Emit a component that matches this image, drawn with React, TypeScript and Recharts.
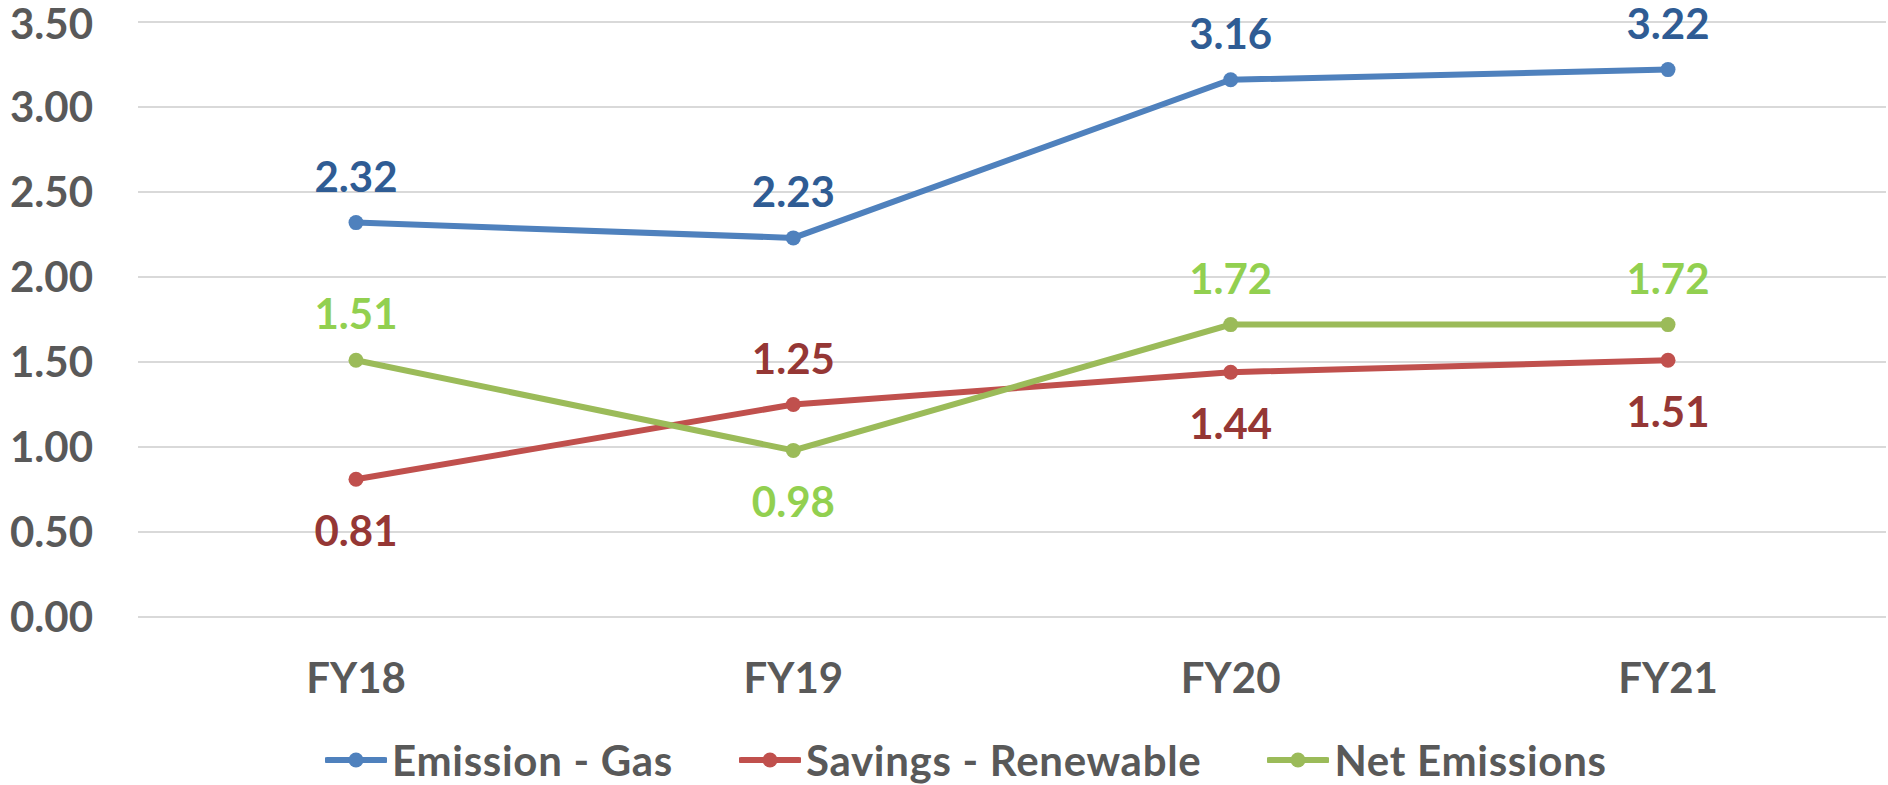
import { LineChart, Line, XAxis, YAxis, CartesianGrid, Legend, LabelList } from 'recharts'

const years = ['FY18', 'FY19', 'FY20', 'FY21']
const gasEmission = [2.32, 2.23, 3.16, 3.22]
const renewableSavings = [0.81, 1.25, 1.44, 1.51]
const netEmissions = [1.51, 0.98, 1.72, 1.72]
const yTicks = [0, 0.5, 1, 1.5, 2, 2.5, 3, 3.5]

// which side of the point each data label sits on
const gasSide = ['above', 'above', 'above', 'above']
const renewableSide = ['below', 'above', 'below', 'below']
const netSide = ['above', 'below', 'above', 'above']

const FONT = 'Lato, "Open Sans", sans-serif'
const AXIS_GREY = '#595959'

const series = [
  { key: 'gas', name: 'Emission - Gas', line: '#4F81BD', label: '#2F5C94', side: gasSide },
  { key: 'renewable', name: 'Savings - Renewable', line: '#C0504D', label: '#953735', side: renewableSide },
  { key: 'net', name: 'Net Emissions', line: '#9BBB59', label: '#92D050', side: netSide },
]

const data = years.map((year, i) => ({
  year,
  gas: gasEmission[i],
  renewable: renewableSavings[i],
  net: netEmissions[i],
}))

function makeLabel(color: string, side: string[]) {
  return (props: any) => {
    const { x, y, value, index } = props
    const below = side[index] === 'below'
    return (
      <text
        x={x}
        y={below ? y + 51 : y - 47}
        textAnchor="middle"
        dominantBaseline="central"
        fill={color}
        fontFamily={FONT}
        fontWeight="bold"
        fontSize={42}
      >
        {Number(value).toFixed(2)}
      </text>
    )
  }
}

function LegendContent() {
  return (
    <div style={{ display: 'flex', alignItems: 'center', paddingLeft: 325, height: 50, fontFamily: FONT }}>
      {series.map(s => (
        <div key={s.key} style={{ display: 'flex', alignItems: 'center', marginRight: 66 }}>
          <svg width={62} height={20}>
            <line x1={2} y1={10} x2={60} y2={10} stroke={s.line} strokeWidth={6} strokeLinecap="round" />
            <circle cx={31} cy={10} r={7.5} fill={s.line} />
          </svg>
          <span
            style={{
              marginLeft: 5,
              fontSize: 42,
              fontWeight: 'bold',
              color: AXIS_GREY,
              lineHeight: '50px',
              letterSpacing: 0.7,
            }}
          >
            {s.name}
          </span>
        </div>
      ))}
    </div>
  )
}

export default function App() {
  return (
    <div style={{ position: 'absolute', left: 0, top: 0 }}>
      <LineChart width={1888} height={785} data={data} margin={{ top: 22, right: 2, left: 0, bottom: 108 }}>
        <CartesianGrid vertical={false} stroke="#D9D9D9" strokeWidth={2} />
        <XAxis
          dataKey="year"
          height={60}
          padding={{ left: 218, right: 218 }}
          axisLine={false}
          tickLine={false}
          tickMargin={40}
          tick={{ fontSize: 42, fontWeight: 'bold', fill: AXIS_GREY, fontFamily: FONT }}
        />
        <YAxis
          width={138}
          domain={[0, 3.5]}
          ticks={yTicks}
          axisLine={false}
          tickLine={false}
          tickMargin={39}
          tickFormatter={(v: number) => v.toFixed(2)}
          tick={{ fontSize: 42, fontWeight: 'bold', fill: AXIS_GREY, fontFamily: FONT }}
        />
        <Legend
          verticalAlign="middle"
          align="center"
          content={<LegendContent />}
          wrapperStyle={{ top: 735, left: 0, width: 1888 }}
        />
        {series.map(s => (
          <Line
            key={s.key}
            dataKey={s.key}
            name={s.name}
            type="linear"
            stroke={s.line}
            strokeWidth={6}
            dot={{ r: 7.5, fill: s.line, stroke: 'none' }}
            activeDot={false}
            isAnimationActive={false}
          >
            <LabelList dataKey={s.key} content={makeLabel(s.label, s.side)} />
          </Line>
        ))}
      </LineChart>
    </div>
  )
}
